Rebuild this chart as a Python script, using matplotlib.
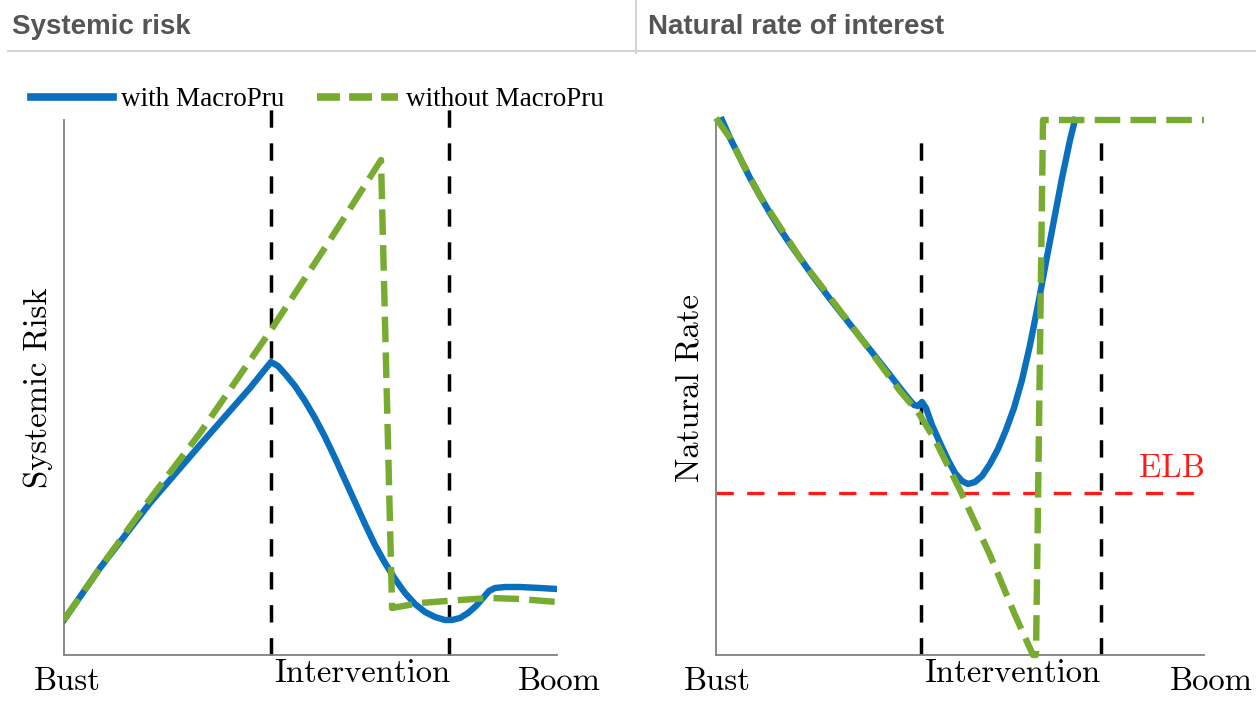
import matplotlib
matplotlib.use('Agg')
import matplotlib.pyplot as plt
from matplotlib.lines import Line2D

# ---- data (x: Bust -> Boom, y: level; arbitrary units) ----
risk_with_x = [0, 36, 86, 136, 186, 207, 214, 222, 231, 241, 251, 261, 271, 281, 291, 301,
               311, 321, 331, 341, 351, 361, 371, 381, 388, 396, 404, 412, 419, 425, 431,
               441, 456, 476, 493]
risk_with_y = [35, 87, 152, 210, 267, 293, 289, 280, 269, 254, 237, 218, 197, 175, 153, 131,
               110, 92, 76, 62, 51, 43, 38, 35, 35, 37, 42, 49, 57, 64, 67,
               68, 68, 67, 66]
risk_without_x = [0, 36, 86, 136, 207, 266, 317, 328, 328, 356, 396, 426, 456, 493]
risk_without_y = [35, 87, 156, 222, 325, 415, 495, 50, 47, 52, 55, 57, 56, 53]
risk_vlines = [207, 385]

rate_with_x = [6, 14, 24, 34, 44, 54, 64, 74, 84, 99, 114, 129, 144, 159, 174, 184, 192,
               198, 202, 206, 210, 216, 224, 232, 239, 246, 252, 259, 266, 274, 282, 290,
               298, 306, 314, 322, 330, 338, 346, 354, 359]
rate_with_y = [535, 517, 497, 477, 459, 442, 426, 411, 397, 376, 356, 337, 318, 299, 280, 267, 257,
               250, 249, 253, 247, 230, 212, 195, 182, 174, 171, 173, 179, 191, 206, 225,
               247, 275, 310, 350, 393, 435, 477, 515, 535]
rate_without_x = [0, 14, 24, 44, 84, 144, 184, 202, 219, 244, 274, 299, 317, 320, 327, 488]
rate_without_y = [537, 517, 497, 459, 397, 318, 264, 243, 215, 165, 100, 40, 0, 0, 535, 535]
rate_vlines = [205, 385]
elb = 162

blue = '#0a6fbd'
green = '#77ac30'

fig = plt.figure(figsize=(12.56, 7.09), dpi=100)

# header strip
fig.text(12 / 1256, 1 - 27 / 709, 'Systemic risk', fontsize=20, fontweight='bold',
         color='#555555', family='Liberation Sans', va='center', ha='left')
fig.text(648 / 1256, 1 - 27 / 709, 'Natural rate of interest', fontsize=20, fontweight='bold',
         color='#555555', family='Liberation Sans', va='center', ha='left')
fig.add_artist(Line2D([8 / 1256, 1], [1 - 51 / 709] * 2, color='#d4d4d4', lw=1.5))
fig.add_artist(Line2D([636 / 1256] * 2, [1, 1 - 53 / 709], color='#d4d4d4', lw=1.5))

serif = 'cmr10'
fs = 23.5

def setup(ax, ylabel, xmax, xb, xi, xo):
    ax.set_xlim(0, xmax)
    ax.set_ylim(0, 535)
    for s in ['top', 'right']:
        ax.spines[s].set_visible(False)
    for s in ['left', 'bottom']:
        ax.spines[s].set_color('#808080')
        ax.spines[s].set_linewidth(1.3)
    ax.set_xticks([])
    ax.set_yticks([])
    ax.set_ylabel(ylabel, family=serif, fontsize=fs, labelpad=8)
    tr = ax.get_xaxis_transform()
    ax.text(xb, -0.022, 'Bust', transform=tr, family=serif, fontsize=fs, ha='center', va='top')
    ax.text(xi, -0.008, 'Intervention', transform=tr, family=serif, fontsize=fs, ha='center', va='top')
    ax.text(xo, -0.022, 'Boom', transform=tr, family=serif, fontsize=fs, ha='center', va='top')

# ---- left: systemic risk ----
ax1 = fig.add_axes([64 / 1256, 1 - 655 / 709, 493 / 1256, 535 / 709])
setup(ax1, 'Systemic Risk', 493, 3, 298, 495)
for xv in risk_vlines:
    ax1.plot([xv, xv], [0, 550], color='black', lw=2.5, dashes=(5, 4.5), clip_on=False, zorder=1)
l1, = ax1.plot(risk_with_x, risk_with_y, color=blue, lw=4.6, solid_joinstyle='round', zorder=2)
l2, = ax1.plot(risk_without_x, risk_without_y, color=green, lw=4.6, dashes=(4, 1.6), zorder=3)
leg = ax1.legend([Line2D([], [], color=blue, lw=5.5),
                  Line2D([], [], color=green, lw=5.5, dashes=(3, 1.2))],
                 ['with MacroPru', 'without MacroPru'], ncol=2, frameon=False,
                 loc='center left', bbox_to_anchor=(-0.066, 1.038), borderpad=0, borderaxespad=0,
                 handlelength=3.0, handletextpad=0.3, columnspacing=1.2,
                 prop={'family': 'Liberation Serif', 'size': 19.5})

# ---- right: natural rate ----
ax2 = fig.add_axes([716 / 1256, 1 - 655 / 709, 488 / 1256, 535 / 709])
setup(ax2, 'Natural Rate', 488, 1, 296, 495)
for xv in rate_vlines:
    ax2.plot([xv, xv], [0, 518], color='black', lw=2.5, dashes=(5, 4.5), zorder=1)
ax2.axhline(elb, color='#ff1a1a', lw=2.4, dashes=(5.2, 4), zorder=1)
ax2.text(489, elb + 10, 'ELB', color='#ff1a1a', family=serif, fontsize=fs, ha='right', va='bottom')
ax2.plot(rate_with_x, rate_with_y, color=blue, lw=4.6, solid_joinstyle='round', zorder=2, clip_on=False)
ax2.plot(rate_without_x, rate_without_y, color=green, lw=4.6, dashes=(4, 1.6), zorder=3, clip_on=False)

fig.savefig('out.png', dpi=100)
